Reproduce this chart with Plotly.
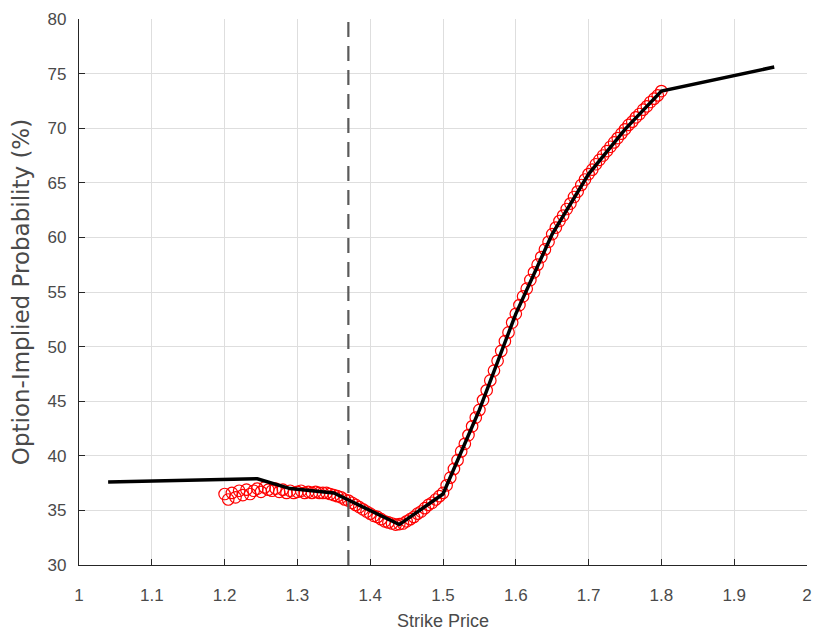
import plotly.graph_objects as go

# Option-implied probability vs strike price
strike_obs_start = 1.20
strike_obs_step = 0.005
prob_obs = [
    36.5, 36.0, 36.6, 36.2, 36.8, 36.4, 36.9, 36.5, 36.8, 37.0,
    36.7, 37.1, 36.9, 36.8, 37.0, 36.7, 36.9, 36.6, 36.8, 36.6,
    36.7, 36.8, 36.6, 36.7, 36.6, 36.7, 36.6, 36.6, 36.6, 36.5,
    36.4, 36.3, 36.2, 36.0, 35.9, 35.7, 35.5, 35.3, 35.1, 34.9,
    34.7, 34.5, 34.4, 34.2, 34.0, 33.9, 33.8, 33.7, 33.75, 33.8,
    34.0, 34.2, 34.4, 34.7, 34.9, 35.2, 35.5, 35.7, 36.0, 36.3,
    36.6, 37.3, 38.0, 38.8, 39.6, 40.4, 41.1, 41.9, 42.7, 43.5,
    44.2, 45.1, 46.0, 46.9, 47.8, 48.7, 49.6, 50.5, 51.3, 52.2,
    53.0, 53.8, 54.6, 55.3, 56.1, 56.8, 57.5, 58.2, 58.9, 59.6,
    60.3, 60.9, 61.5, 62.0, 62.6, 63.1, 63.7, 64.2, 64.8, 65.3,
    65.8, 66.2, 66.7, 67.1, 67.5, 67.9, 68.3, 68.7, 69.1, 69.5,
    69.9, 70.3, 70.6, 71.0, 71.3, 71.7, 72.0, 72.4, 72.7, 73.0,
    73.4,
]
strike_obs = [round(strike_obs_start + i * strike_obs_step, 4) for i in range(len(prob_obs))]

# Fitted piecewise-linear curve
strike_fit = [1.04, 1.245, 1.29, 1.35, 1.44, 1.50, 1.55, 1.60, 1.65, 1.70, 1.75, 1.80, 1.955]
prob_fit = [37.6, 37.9, 37.0, 36.6, 33.7, 36.5, 44.2, 53.0, 60.3, 65.8, 69.9, 73.4, 75.6]

spot_price = 1.37

x_ticks = [1, 1.1, 1.2, 1.3, 1.4, 1.5, 1.6, 1.7, 1.8, 1.9, 2]
x_tick_labels = ["1", "1.1", "1.2", "1.3", "1.4", "1.5", "1.6", "1.7", "1.8", "1.9", "2"]
y_ticks = [30, 35, 40, 45, 50, 55, 60, 65, 70, 75, 80]

fig = go.Figure()

fig.add_trace(go.Scatter(
    x=strike_obs, y=prob_obs, mode="markers",
    marker=dict(symbol="circle-open", size=11.5, color="#ff0000", line=dict(width=1.2)),
    showlegend=False, hoverinfo="skip",
))
fig.add_trace(go.Scatter(
    x=strike_fit, y=prob_fit, mode="lines",
    line=dict(color="#000000", width=3.5),
    showlegend=False,
))

fig.add_vline(x=spot_price, line=dict(color="#5a5a5a", width=2.2, dash="15px,9px"))

label_color = "#4a4a4a"
font_family = "Liberation Sans, Arial, sans-serif"

fig.update_layout(
    width=821, height=637,
    margin=dict(l=79, r=14, t=19, b=72),
    paper_bgcolor="white", plot_bgcolor="white",
    font=dict(family=font_family, size=17, color=label_color),
    xaxis=dict(
        range=[1, 2], tickmode="array", tickvals=x_ticks, ticktext=x_tick_labels,
        showgrid=True, gridcolor="#dedede", gridwidth=1,
        showline=True, linecolor="#262626", linewidth=1.2,
        ticks="inside", ticklen=6, tickcolor="#262626", tickwidth=1.2,
        ticklabelstandoff=14, zeroline=False, automargin=False,
        title=dict(text="Strike Price",
                   font=dict(family=font_family, size=18, color=label_color),
                   standoff=10),
    ),
    yaxis=dict(
        range=[30, 80], tickmode="array", tickvals=y_ticks,
        showgrid=True, gridcolor="#dedede", gridwidth=1,
        showline=True, linecolor="#262626", linewidth=1.2,
        ticks="inside", ticklen=6, tickcolor="#262626", tickwidth=1.2,
        ticklabelstandoff=8, zeroline=False, automargin=False,
        title=dict(text="Option-Implied Probability (%)",
                   font=dict(family="DejaVu Sans, Liberation Sans, sans-serif", size=23, color=label_color),
                   standoff=11),
    ),
)

fig.write_html("out.html")
